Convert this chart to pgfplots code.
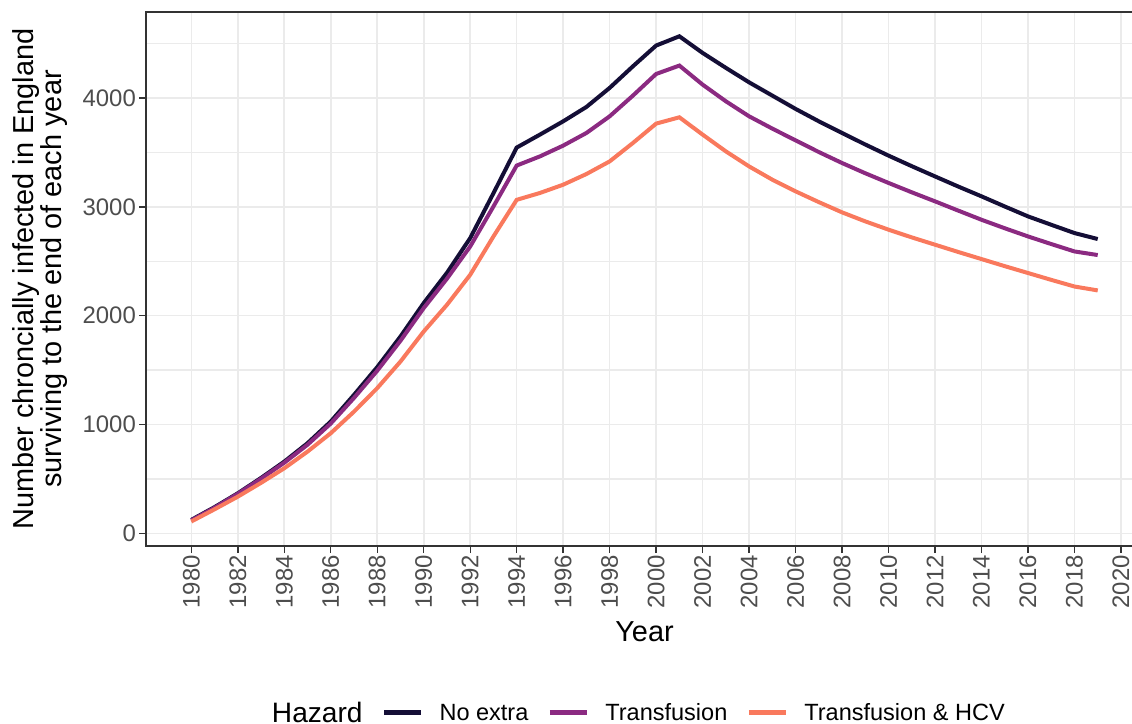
\documentclass[border=0pt]{standalone}
\usepackage{pgfplots}
\pgfplotsset{compat=1.18}
\usepackage{fontspec}
\setmainfont{Liberation Sans}

\definecolor{noextra}{HTML}{140E36}
\definecolor{transf}{HTML}{8B2A81}
\definecolor{hcv}{HTML}{F9795D}
\definecolor{gridgray}{HTML}{EBEBEB}
\definecolor{axgray}{HTML}{333333}
\definecolor{labgray}{HTML}{4D4D4D}

% year, value
\pgfplotstableread{
year val
1980 125
1981 242
1982 369
1983 510
1984 660
1985 829
1986 1028
1987 1273
1988 1528
1989 1809
1990 2116
1991 2394
1992 2713
1993 3125
1994 3544
1995 3663
1996 3785
1997 3917
1998 4092
1999 4290
2000 4481
2001 4566
2002 4413
2003 4276
2004 4143
2005 4021
2006 3899
2007 3785
2008 3678
2009 3572
2010 3470
2011 3373
2012 3279
2013 3186
2014 3096
2015 3003
2016 2912
2017 2835
2018 2759
2019 2704
}\noextra
\pgfplotstableread{
year val
1980 120
1981 236
1982 364
1983 503
1984 650
1985 815
1986 1010
1987 1245
1988 1495
1989 1770
1990 2070
1991 2340
1992 2636
1993 3003
1994 3379
1995 3463
1996 3562
1997 3678
1998 3831
1999 4021
2000 4220
2001 4297
2002 4122
2003 3969
2004 3831
2005 3718
2006 3610
2007 3503
2008 3402
2009 3308
2010 3219
2011 3133
2012 3050
2013 2965
2014 2881
2015 2803
2016 2728
2017 2658
2018 2590
2019 2557
}\transfusion
\pgfplotstableread{
year val
1980 110
1981 222
1982 338
1983 465
1984 599
1985 752
1986 921
1987 1119
1988 1335
1989 1579
1990 1855
1991 2100
1992 2376
1993 2728
1994 3064
1995 3127
1996 3203
1997 3301
1998 3417
1999 3586
2000 3764
2001 3822
2002 3663
2003 3509
2004 3371
2005 3249
2006 3142
2007 3043
2008 2949
2009 2866
2010 2790
2011 2719
2012 2652
2013 2585
2014 2520
2015 2455
2016 2392
2017 2329
2018 2268
2019 2232
}\hcv

\begin{document}
\begin{tikzpicture}
\begin{axis}[
    scale only axis,
    width=997bp, height=534bp,
    xmin=1978.05, xmax=2020.95,
    ymin=-115, ymax=4789,
    xtick={1980,1982,...,2020},
    ytick={0,1000,...,4000},
    minor ytick={500,1500,...,4500},
    grid=both,
    major grid style={color=gridgray, line width=1.6bp},
    minor grid style={color=gridgray, line width=1.4bp},
    axis line style={color=axgray, line width=1.4bp},
    tick style={color=axgray, line width=1.4bp},
    major tick length=7bp,
    minor tick length=0pt,
    tick align=outside,
    xtick pos=left, ytick pos=left,
    /pgf/number format/1000 sep={},
    /pgf/number format/assume math mode=true,
    x tick label style={rotate=90, anchor=east, color=labgray, font=\fontsize{24}{28}\selectfont, inner sep=2bp},
    y tick label style={color=labgray, font=\fontsize{24}{28}\selectfont, inner sep=3bp},
    xlabel={Year},
    ylabel={Number chroncially infected in England\\surviving to the end of each year},
    xlabel style={font=\fontsize{29}{33}\selectfont, inner sep=2bp, yshift=-9bp},
    ylabel style={align=center, font=\fontsize{29}{28}\selectfont, inner sep=2bp, yshift=10bp},
    legend columns=-1,
    legend style={draw=none, fill=none, inner sep=0pt, outer sep=0pt,
        at={(0.1103,-0.3127)}, anchor=west,
        font=\fontsize{23.6}{28}\selectfont,
        nodes={inner sep=0pt, outer sep=0pt},
        /tikz/every odd column/.append style={column sep=16bp},
        /tikz/every even column/.append style={column sep=19bp}},
    legend image code/.code={\draw[#1, line width=5bp] (0bp,0bp) -- (37bp,0bp);},
    every axis plot/.append style={line width=4bp},
]
\addlegendimage{empty legend}
\addlegendentry{\fontsize{28.2}{33}\selectfont Hazard}
\addplot[noextra] table[x=year, y=val] {\noextra};
\addlegendentry{No extra}
\addplot[transf] table[x=year, y=val] {\transfusion};
\addlegendentry{Transfusion}
\addplot[hcv] table[x=year, y=val] {\hcv};
\addlegendentry{Transfusion \& HCV}
\coordinate (ll) at (rel axis cs:0,0);
\end{axis}
\pgfresetboundingbox
\path ([shift={(-146bp,-178bp)}]ll) rectangle ([shift={(986bp,546bp)}]ll);
\end{tikzpicture}
\end{document}
